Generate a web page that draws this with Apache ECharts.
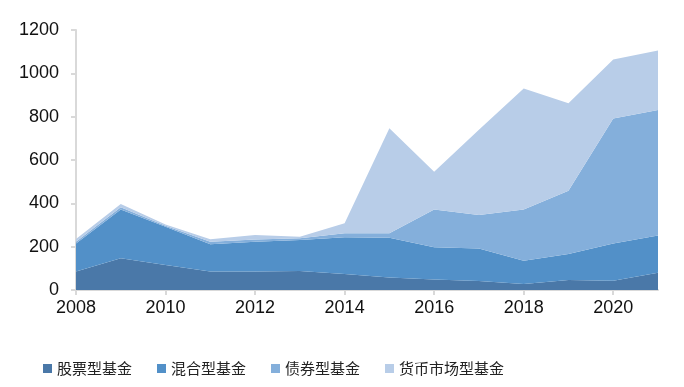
<!DOCTYPE html>
<html>
<head>
<meta charset="utf-8">
<script src="https://cdn.jsdelivr.net/npm/echarts@6/dist/echarts.min.js"></script>
<style>html,body{margin:0;padding:0;background:#fff;}#c{width:684px;height:387px;}</style>
</head>
<body>
<div id="c"></div>
<script>
var years = ['2008','2009','2010','2011','2012','2013','2014','2015','2016','2017','2018','2019','2020','2021'];
var seriesNames = ['股票型基金','混合型基金','债券型基金','货币市场型基金'];
var stockFund = [85, 146, 115, 85, 85, 88, 74, 58, 49, 42, 28, 46, 43, 80];
var mixedFund = [130, 226, 177, 126, 138, 143, 169, 183, 148, 150, 107, 120, 172, 171];
var bondFund = [8, 10, 5, 12, 10, 8, 19, 21, 175, 154, 237, 292, 577, 580];
var moneyFund = [12, 15, 5, 11, 21, 7, 46, 484, 174, 394, 558, 404, 272, 274];
var yTicks = [0, 200, 400, 600, 800, 1000, 1200];

var colors = ['#4a78a8', '#5290c8', '#84afdb', '#b8cde8'];
var dataArr = [stockFund, mixedFund, bondFund, moneyFund];

var chart = echarts.init(document.getElementById('c'));
chart.setOption({
  animation: false,
  color: colors,
  grid: {left: 76, right: 26, top: 30, bottom: 97},
  legend: {
    data: seriesNames,
    left: 38, top: 356,
    icon: 'rect', itemWidth: 9, itemHeight: 9, itemGap: 25,
    textStyle: {fontFamily: 'Noto Sans CJK SC', fontSize: 15, color: '#222'}
  },
  xAxis: {
    type: 'category',
    data: years,
    boundaryGap: false,
    axisLine: {lineStyle: {color: '#d9d9d9', width: 2}},
    axisTick: {show: true, interval: 1, length: 5, lineStyle: {color: '#d9d9d9', width: 2}},
    axisLabel: {interval: 1, fontFamily: 'Liberation Sans', fontSize: 18, color: '#111', margin: 9}
  },
  yAxis: {
    type: 'value',
    min: yTicks[0], max: yTicks[yTicks.length - 1], interval: 200,
    axisLine: {show: true, lineStyle: {color: '#d9d9d9', width: 2}},
    axisTick: {show: true, length: 5, lineStyle: {color: '#d9d9d9', width: 2}},
    splitLine: {show: false},
    axisLabel: {fontFamily: 'Liberation Sans', fontSize: 18, color: '#111', margin: 17,
      formatter: function (v) { return String(v); }}
  },
  series: seriesNames.map(function (n, i) {
    return {
      name: n, type: 'line', stack: 'total', data: dataArr[i],
      symbol: 'none', lineStyle: {width: 0},
      areaStyle: {color: colors[i], opacity: 1}
    };
  })
});
</script>
</body>
</html>
